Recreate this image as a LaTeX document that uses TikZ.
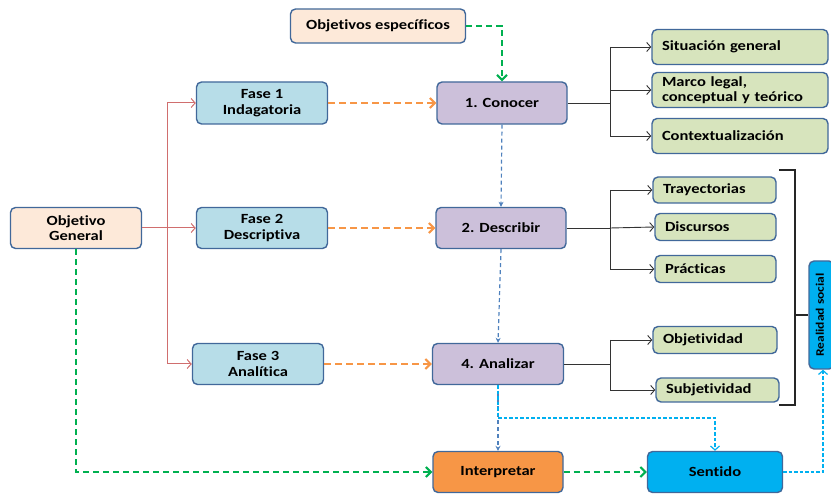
\documentclass[tikz,border=0pt]{standalone}
\usepackage{fontspec}
\setmainfont{Carlito}[Ligatures={NoCommon}, FakeStretch=1.18]
\usetikzlibrary{arrows.meta}
\definecolor{bordc}{HTML}{41689A}
\definecolor{peach}{HTML}{FDE9D9}
\definecolor{fase}{HTML}{B7DDE8}
\definecolor{lila}{HTML}{CCC0DA}
\definecolor{verde}{HTML}{D7E4BD}
\definecolor{naranja}{HTML}{F79646}
\definecolor{cielo}{HTML}{00B0F0}
\definecolor{rojo}{RGB}{208,110,110}
\definecolor{gline}{HTML}{00B050}
\definecolor{bline}{HTML}{4F81BD}
\tikzset{
  box/.style={draw=bordc, line width=1.4pt, rounded corners=5pt, align=center, inner sep=0pt,
    font=\fontsize{14}{15.5}\selectfont\bfseries},
  gbox/.style={box, fill=verde, align=left, inner xsep=10pt},
  redarr/.style={draw=rojo, line width=1pt, -{Straight Barb[length=4pt,width=9pt]}},
  blackarr/.style={draw=black!80, line width=0.9pt, -{Straight Barb[length=4pt,width=9pt]}},
  orarr/.style={draw=naranja, line width=2pt, dash pattern=on 7pt off 4pt, -{Straight Barb[length=5pt,width=10pt]}},
  grarr/.style={draw=gline, line width=2pt, dash pattern=on 6pt off 4pt, -{Straight Barb[length=5pt,width=10pt]}},
  blarr/.style={draw=bline, line width=1.2pt, dash pattern=on 4pt off 3pt, -{Stealth[length=5pt,width=5pt]}},
  cyarr/.style={draw=cielo, line width=1.2pt, dash pattern=on 3.5pt off 2pt, -{Straight Barb[length=4pt,width=9pt]}},
}
\begin{document}
\begin{tikzpicture}[x=1pt,y=-1pt]
\useasboundingbox (0,0) rectangle (831,494);
% nodes
\node[box, fill=peach, minimum width=175pt, minimum height=34pt] (oe) at (378,26) {Objetivos específicos};
\node[box, fill=peach, minimum width=131pt, minimum height=41pt] (og) at (76,228) {Objetivo\\General};
\node[box, fill=fase, minimum width=131pt, minimum height=42pt] (f1) at (262,103) {Fase 1\\Indagatoria};
\node[box, fill=fase, minimum width=131pt, minimum height=41pt] (f2) at (262,228) {Fase 2\\Descriptiva};
\node[box, fill=fase, minimum width=131pt, minimum height=41pt] (f3) at (258,364) {Fase 3\\Analítica};
\node[box, fill=lila, minimum width=130pt, minimum height=42pt] (c1) at (502,103) {1. Conocer};
\node[box, fill=lila, minimum width=130pt, minimum height=41pt] (c2) at (501,228) {2. Describir};
\node[box, fill=lila, minimum width=131pt, minimum height=41pt] (c4) at (498,364) {4. Analizar};
\node[box, fill=naranja, minimum width=130pt, minimum height=41pt] (ip) at (498,472) {Interpretar};
\node[box, fill=cielo, minimum width=135pt, minimum height=41pt] (se) at (715,472) {Sentido};
\node[gbox, minimum width=176pt, minimum height=35pt, text width=156pt] (s1) at (740,47) {Situación general};
\node[gbox, minimum width=176pt, minimum height=35pt, text width=156pt] (s2) at (740,90) {Marco legal,\\[-1pt]conceptual y teórico};
\node[gbox, minimum width=176pt, minimum height=35pt, text width=156pt] (s3) at (740,136) {Contextualización};
\node[gbox, minimum width=123pt, minimum height=26pt, text width=103pt] (t1) at (714.5,190) {Trayectorias};
\node[gbox, minimum width=121pt, minimum height=27pt, text width=101pt] (t2) at (715.5,227) {Discursos};
\node[gbox, minimum width=121pt, minimum height=27pt, text width=101pt] (t3) at (715.5,269) {Prácticas};
\node[gbox, minimum width=124pt, minimum height=27pt, text width=104pt] (o1) at (715,340) {Objetividad};
\node[gbox, minimum width=123pt, minimum height=24pt, text width=103pt] (o2) at (717.5,390) {Subjetividad};
\node[box, fill=cielo, minimum width=25pt, minimum height=108pt] (rs) at (821.5,315) {};
\node[font=\fontsize{11.5}{14}\selectfont\bfseries, rotate=90] (rst) at (820,315) {Realidad social};
% red connectors
\coordinate (rb) at (167,228);
\draw[draw=rojo, line width=1pt] (og.east) -- (rb);
\draw[draw=rojo, line width=1pt] (rb |- f1.west) -- (rb |- f3.west);
\draw[redarr] (rb |- f1.west) -- (f1.west);
\draw[redarr] (rb) -- (f2.west);
\draw[redarr] (rb |- f3.west) -- (f3.west);
% orange
\draw[orarr] (f1.east) -- (c1.west);
\draw[orarr] (f2.east) -- (c2.west);
\draw[orarr] (f3.east) -- (c4.west);
% green
\draw[grarr] (oe.east) -| (c1.north);
\draw[grarr] (og.south) |- (ip.west);
\draw[grarr] (ip.east) -- (se.west);
% blue
\draw[blarr] (c1.south) -- (c2.north);
\draw[blarr] (c2.south) -- (c4.north);
\draw[blarr] (c4.south) -- (ip.north);
% cyan
\coordinate (cy1) at (498,418);
\draw[cyarr] (c4.south) -- (cy1) -| (se.north);
\coordinate (cy2) at (823,472);
\draw[cyarr] (se.east) -- (cy2) -- (cy2 |- rs.south);
% black trees
\coordinate (k1) at (610,103);
\draw[draw=black!80, line width=0.9pt] (c1.east) -- (k1);
\draw[draw=black!80, line width=0.9pt] (k1 |- s1.west) -- (k1 |- s3.west);
\draw[blackarr] (k1 |- s1.west) -- (s1.west);
\draw[blackarr] (k1 |- s2.west) -- (s2.west);
\draw[blackarr] (k1 |- s3.west) -- (s3.west);
\coordinate (k2) at (610,228);
\draw[draw=black!80, line width=0.9pt] (c2.east) -- (k2);
\draw[draw=black!80, line width=0.9pt] (k2 |- t1.west) -- (k2 |- t3.west);
\draw[blackarr] (k2 |- t1.west) -- (t1.west);
\draw[blackarr] (k2) -- (t2.west);
\draw[blackarr] (k2 |- t3.west) -- (t3.west);
\coordinate (k3) at (610,364);
\draw[draw=black!80, line width=0.9pt] (c4.east) -- (k3);
\draw[draw=black!80, line width=0.9pt] (k3 |- o1.west) -- (k3 |- o2.west);
\draw[blackarr] (k3 |- o1.west) -- (o1.west);
\draw[blackarr] (k3 |- o2.west) -- (o2.west);
% bracket
\coordinate (b1) at (779,170);
\coordinate (b2) at (795,170);
\coordinate (b3) at (795,405);
\coordinate (b4) at (779,405);
\draw[draw=black!85, line width=1.4pt] (b1) -- (b2) -- (b3) -- (b4);
\draw[draw=black!85, line width=1.4pt] (b2 |- rs.west) -- (rs.west);
\end{tikzpicture}
\end{document}
